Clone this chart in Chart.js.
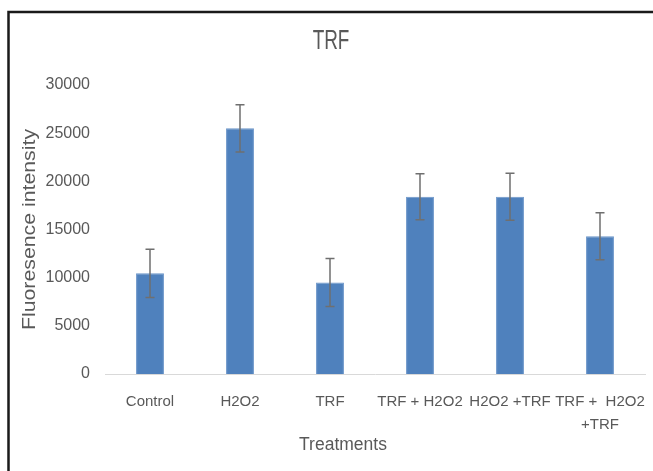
<!DOCTYPE html>
<html>
<head>
<meta charset="utf-8">
<script src="https://cdn.jsdelivr.net/npm/chart.js@4"></script>
<style>
  html, body { margin: 0; padding: 0; background: #fff; }
  #wrap { width: 653px; height: 471px; }
</style>
</head>
<body>
<div id="wrap"><canvas id="chart" width="653" height="471"></canvas></div>
<script>
// data
const categories = ['Control', 'H2O2', 'TRF', 'TRF + H2O2', 'H2O2 +TRF', ['TRF +  H2O2', '+TRF']];
const values = [10450, 25500, 9500, 18400, 18400, 14300];
const errors = [2500, 2450, 2500, 2400, 2450, 2450];
const yTicks = [0, 5000, 10000, 15000, 20000, 25000, 30000];

const chartTitle = 'TRF';
const xTitle = 'Treatments';
const yTitle = 'Fluoresence intensity';

const textColor = '#595959';
const font = "'Liberation Sans', Arial, sans-serif";

// error bars, drawn from the y scale
const errorBars = {
  id: 'errorBars',
  afterDatasetsDraw(chart) {
    const ctx = chart.ctx;
    const y = chart.scales.y;
    const meta = chart.getDatasetMeta(0);
    ctx.save();
    ctx.strokeStyle = '#6f6f6f';
    ctx.lineWidth = 1.5;
    meta.data.forEach((bar, i) => {
      const top = y.getPixelForValue(values[i] + errors[i]);
      const bot = y.getPixelForValue(values[i] - errors[i]);
      ctx.beginPath();
      ctx.moveTo(bar.x, top);
      ctx.lineTo(bar.x, bot);
      ctx.moveTo(bar.x - 4.5, top);
      ctx.lineTo(bar.x + 4.5, top);
      ctx.moveTo(bar.x - 4.5, bot);
      ctx.lineTo(bar.x + 4.5, bot);
      ctx.stroke();
    });
    ctx.restore();
  }
};

// frame and titles (the source text is narrow and tall, so squeeze a bit)
function stretchedText(ctx, text, x, y, size, sx, angle) {
  ctx.save();
  ctx.translate(x, y);
  if (angle) ctx.rotate(angle);
  ctx.scale(sx, 1);
  ctx.font = size + 'px ' + font;
  ctx.fillText(text, 0, 0);
  ctx.restore();
}

const decorations = {
  id: 'decorations',
  afterDraw(chart) {
    const ctx = chart.ctx;
    const area = chart.chartArea;
    ctx.save();
    ctx.strokeStyle = '#1a1a1a';
    ctx.lineWidth = 2.5;
    ctx.strokeRect(8.5, 12, 700, 520);

    ctx.fillStyle = textColor;
    ctx.textAlign = 'center';
    ctx.textBaseline = 'middle';
    stretchedText(ctx, chartTitle, 331, 42, 27, 0.7, 0);
    stretchedText(ctx, xTitle, 343, 445, 17.5, 1, 0);
    stretchedText(ctx, yTitle, 30, (area.top + area.bottom) / 2, 19, 1.12, -Math.PI / 2);
    ctx.restore();
  }
};

new Chart(document.getElementById('chart'), {
  type: 'bar',
  data: {
    labels: categories,
    datasets: [{
      data: values,
      backgroundColor: '#4f81bd',
      borderColor: '#6b95c9',
      borderWidth: 1,
      barPercentage: 0.31,
      categoryPercentage: 1
    }]
  },
  options: {
    responsive: false,
    animation: false,
    layout: { padding: { top: 85, right: 8, bottom: 0, left: 0 } },
    plugins: {
      legend: { display: false },
      title: { display: false },
      tooltip: { enabled: false }
    },
    scales: {
      x: {
        grid: { display: false, drawTicks: false },
        border: { display: true, color: '#d9d9d9', width: 1 },
        ticks: {
          color: textColor,
          font: { family: font, size: 15, lineHeight: 1.55 },
          padding: 16,
          maxRotation: 0,
          autoSkip: false
        },
        afterFit(scale) {
          scale.height = 97;
          scale.paddingLeft = 0;
          scale.paddingRight = 0;
        }
      },
      y: {
        min: 0,
        max: 30000,
        grid: { display: false, drawTicks: false },
        border: { display: false },
        ticks: {
          color: textColor,
          font: { family: font, size: 16 },
          padding: 15,
          callback: v => String(v)
        },
        afterBuildTicks(scale) { scale.ticks = yTicks.map(v => ({ value: v })); },
        afterFit(scale) { scale.width = 105; }
      }
    }
  },
  plugins: [errorBars, decorations]
});
</script>
</body>
</html>
